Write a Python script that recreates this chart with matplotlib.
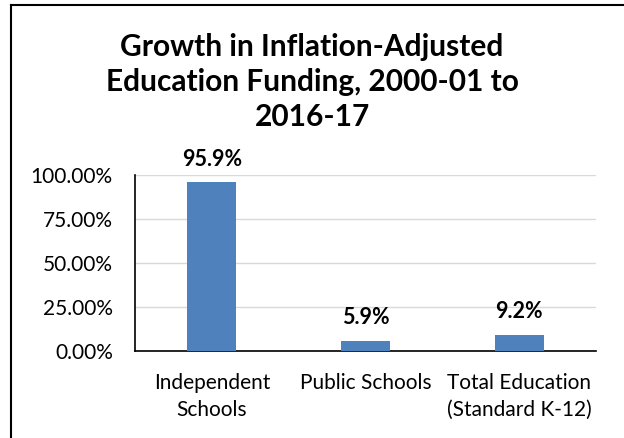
import matplotlib
matplotlib.use("Agg")
import matplotlib.pyplot as plt
from matplotlib.lines import Line2D
from matplotlib.ticker import FuncFormatter

categories = ["Independent\nSchools", "Public Schools", "Total Education\n(Standard K-12)"]
values = [95.9, 5.9, 9.2]
labels = ["95.9%", "5.9%", "9.2%"]
yticks = [0, 25, 50, 75, 100]

plt.rcParams['font.family'] = ['Lato', 'DejaVu Sans']

W, H = 624, 438
fig = plt.figure(figsize=(W/100, H/100), dpi=100)
ax = fig.add_axes([135/W, 1-351/H, (596-135)/W, (351-175)/H])

x = list(range(len(categories)))
ax.bar(x, values, width=0.32, color="#4F81BD", zorder=3)
for xi, v, lab in zip(x, values, labels):
    ax.annotate(lab, (xi, v), xytext=(0, 9), textcoords="offset points",
                ha="center", va="bottom", fontsize=15.5, fontweight="bold", color="#000000")

ax.set_xlim(-0.5, 2.5)
ax.set_ylim(0, 100)
ax.set_yticks(yticks)
ax.yaxis.set_major_formatter(FuncFormatter(lambda v, p: f"{v:.2f}%"))
ax.set_xticks(x)
ax.set_xticklabels(categories, fontsize=15, linespacing=1.4)
ax.tick_params(axis='y', length=0, pad=16, labelsize=15)
ax.tick_params(axis='x', length=0, pad=16)
ax.grid(axis='y', color="#D9D9D9", linewidth=1, zorder=0)
for s in ['top', 'right']:
    ax.spines[s].set_visible(False)
ax.spines['left'].set_color('black')
ax.spines['bottom'].set_color('black')
ax.spines['left'].set_linewidth(1.2)
ax.spines['bottom'].set_linewidth(1.2)

fig.text(312/W, 1-82/H, "Growth in Inflation-Adjusted\nEducation Funding, 2000-01 to\n2016-17",
         ha="center", va="center", fontsize=21.5, fontweight="bold", linespacing=1.32)

# chart frame (top and left edges visible)
fig.add_artist(Line2D([10.5/W, 10.5/W], [0, 1-4.5/H], transform=fig.transFigure, color="black", linewidth=1.5))
fig.add_artist(Line2D([10.5/W, 1], [1-4.5/H, 1-4.5/H], transform=fig.transFigure, color="black", linewidth=1.5))

fig.savefig("out.png", dpi=100)
